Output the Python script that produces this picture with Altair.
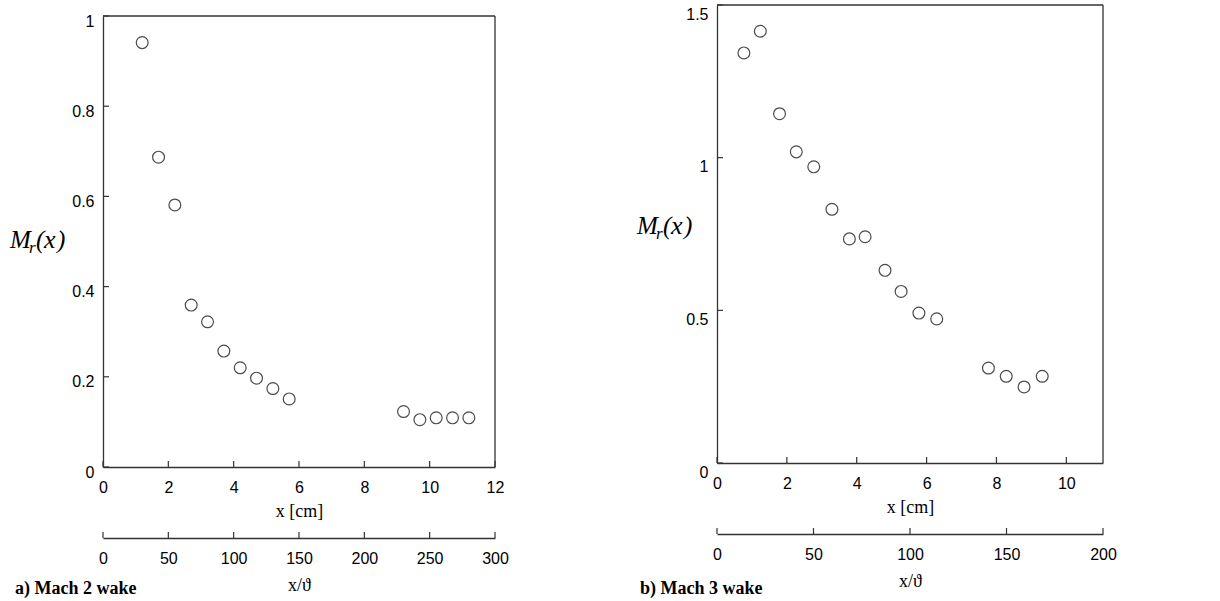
import altair as alt
import pandas as pd

# ---------------- data ----------------
# panel a) Mach 2 wake
a_x_cm = [1.2, 1.7, 2.2, 2.7, 3.2, 3.7, 4.2, 4.7, 5.2, 5.7, 9.2, 9.7, 10.2, 10.7, 11.2]
a_mr = [0.941, 0.687, 0.581, 0.359, 0.322, 0.257, 0.220, 0.197, 0.174, 0.151,
        0.123, 0.105, 0.109, 0.109, 0.109]
# panel b) Mach 3 wake
b_x_cm = [0.77, 1.24, 1.79, 2.27, 2.77, 3.29, 3.79, 4.24, 4.81, 5.27, 5.78, 6.29,
          7.77, 8.28, 8.79, 9.31]
b_mr = [1.343, 1.414, 1.144, 1.019, 0.970, 0.831, 0.734, 0.741, 0.631, 0.562,
        0.491, 0.472, 0.311, 0.284, 0.249, 0.284]

a_x_ticks = [0, 2, 4, 6, 8, 10, 12]
a_y_ticks = [0, 0.2, 0.4, 0.6, 0.8, 1]
a_theta_ticks = [0, 50, 100, 150, 200, 250, 300]
b_x_ticks = [0, 2, 4, 6, 8, 10]
b_y_ticks = [0, 0.5, 1, 1.5]
b_theta_ticks = [0, 50, 100, 150, 200]
captions = ["a) Mach 2 wake", "b) Mach 3 wake"]
# y label "M_r(x)" typeset in pieces: (text, font size, dx, dy)
y_label_parts = [("M", 25, 0, 0), ("r", 17, 19, 5), ("(", 25, 26, 0),
                 ("x", 26, 34, 0), (")", 25, 47, 0)]
x_title = "x [cm]"
theta_title = "x/\u03d1"

LINE = "#333333"
SANS = "Liberation Sans"
SERIF = "Liberation Serif"


def panel(xs, ys, xdom, ydom, xt, yt, tt, tdom, W, H, top, caption, cap_dx,
          cap_y, lab_dx, lab_base, ylab_offset):
    xscale = alt.Scale(domain=xdom, nice=False, zero=False)
    yscale = alt.Scale(domain=ydom, nice=False, zero=False, range=[H, top])
    tscale = alt.Scale(domain=tdom, nice=False, zero=False)

    points = alt.Chart(pd.DataFrame({"x": xs, "y": ys})).mark_point(
        shape="circle", size=140, filled=False, color="black", strokeWidth=1.2
    ).encode(
        x=alt.X("x:Q", scale=xscale, axis=alt.Axis(
            orient="bottom", values=xt, format="d", title=x_title, tickSize=0,
            labelFlush=False, labelPadding=12, labelFont=SANS, labelFontSize=16,
            labelColor="black", domainColor=LINE, domainWidth=1.3, grid=False,
            titleFont=SERIF, titleFontSize=18, titleFontWeight="normal",
            titleColor="black", titlePadding=7)),
        y=alt.Y("y:Q", scale=yscale, axis=alt.Axis(
            orient="left", values=yt, format="~g", title=None, tickSize=0,
            labelPadding=9, labelOffset=ylab_offset, labelFont=SANS,
            labelFontSize=16, labelColor="black", domainColor=LINE,
            domainWidth=1.3, grid=False)),
    )

    x_tick_rules = alt.Chart(pd.DataFrame({"x": xt})).mark_rule(
        color=LINE, strokeWidth=1.2
    ).encode(
        x=alt.X("x:Q", scale=xscale, axis=None),
        y=alt.value(H), y2=alt.value(H - 6),
    )
    y_tick_rules = alt.Chart(pd.DataFrame({"y": yt})).mark_rule(
        color=LINE, strokeWidth=1.2
    ).encode(
        y=alt.Y("y:Q", scale=yscale, axis=None),
        x=alt.value(0), x2=alt.value(6),
    )

    # frame: top and right border of the plot box
    frame_top = alt.Chart(pd.DataFrame({"c": [0]})).mark_rule(
        color=LINE, strokeWidth=1.3
    ).encode(x=alt.value(0), x2=alt.value(W), y=alt.value(top))
    frame_right = alt.Chart(pd.DataFrame({"c": [0]})).mark_rule(
        color=LINE, strokeWidth=1.3
    ).encode(x=alt.value(W), y=alt.value(top), y2=alt.value(H))

    theta = alt.Chart(pd.DataFrame({"t": tt})).mark_rule(
        color=LINE, strokeWidth=1.2
    ).encode(
        x=alt.X("t:Q", scale=tscale, axis=alt.Axis(
            orient="bottom", offset=71, values=tt, format="d", title=theta_title,
            tickSize=0, labelFlush=False, labelPadding=12, labelFont=SANS,
            labelFontSize=16, labelColor="black", domainColor=LINE,
            domainWidth=1.3, grid=False, titleFont=SERIF, titleFontSize=18,
            titleFontWeight="normal", titleColor="black", titlePadding=10)),
        y=alt.value(H + 71), y2=alt.value(H + 65),
    )

    cap = alt.Chart(pd.DataFrame({"c": [caption]})).mark_text(
        align="left", baseline="middle", font=SERIF, fontSize=18,
        fontWeight="bold", color="black"
    ).encode(text="c:N", x=alt.value(cap_dx), y=alt.value(cap_y))

    label_layers = []
    for txt, fs, dx, dy in y_label_parts:
        label_layers.append(
            alt.Chart(pd.DataFrame({"c": [txt]})).mark_text(
                align="left", baseline="alphabetic", font=SERIF, fontSize=fs,
                fontStyle="italic", color="black"
            ).encode(text="c:N", x=alt.value(lab_dx + dx), y=alt.value(lab_base + dy))
        )

    layers = [points, x_tick_rules, y_tick_rules, frame_top, frame_right, theta,
              cap] + label_layers

    return alt.layer(*layers).resolve_scale(
        x="independent", y="independent"
    ).resolve_axis(x="independent", y="independent").properties(width=W, height=H)


# both panels share the same origin (page y = 4); panel a's box starts 11 px lower
left = panel(a_x_cm, a_mr, [0, 12], [0, 1], a_x_ticks, a_y_ticks, a_theta_ticks,
             [0, 300], 392, 462, 11, captions[0], -88, 584, -93, 243, 5)
right = panel(b_x_cm, b_mr, [0, 11.05], [0, 1.5], b_x_ticks, b_y_ticks, b_theta_ticks,
              [0, 200], 386, 458, 0, captions[1], -77, 584, -80, 229, 9)

chart = alt.hconcat(left, right, spacing=128).configure_view(
    strokeWidth=0
).properties(
    padding={"left": 10, "top": 4, "right": 0, "bottom": 0},
    background="white",
)

chart.save("out.html", embed_options={"renderer": "svg", "actions": False})
